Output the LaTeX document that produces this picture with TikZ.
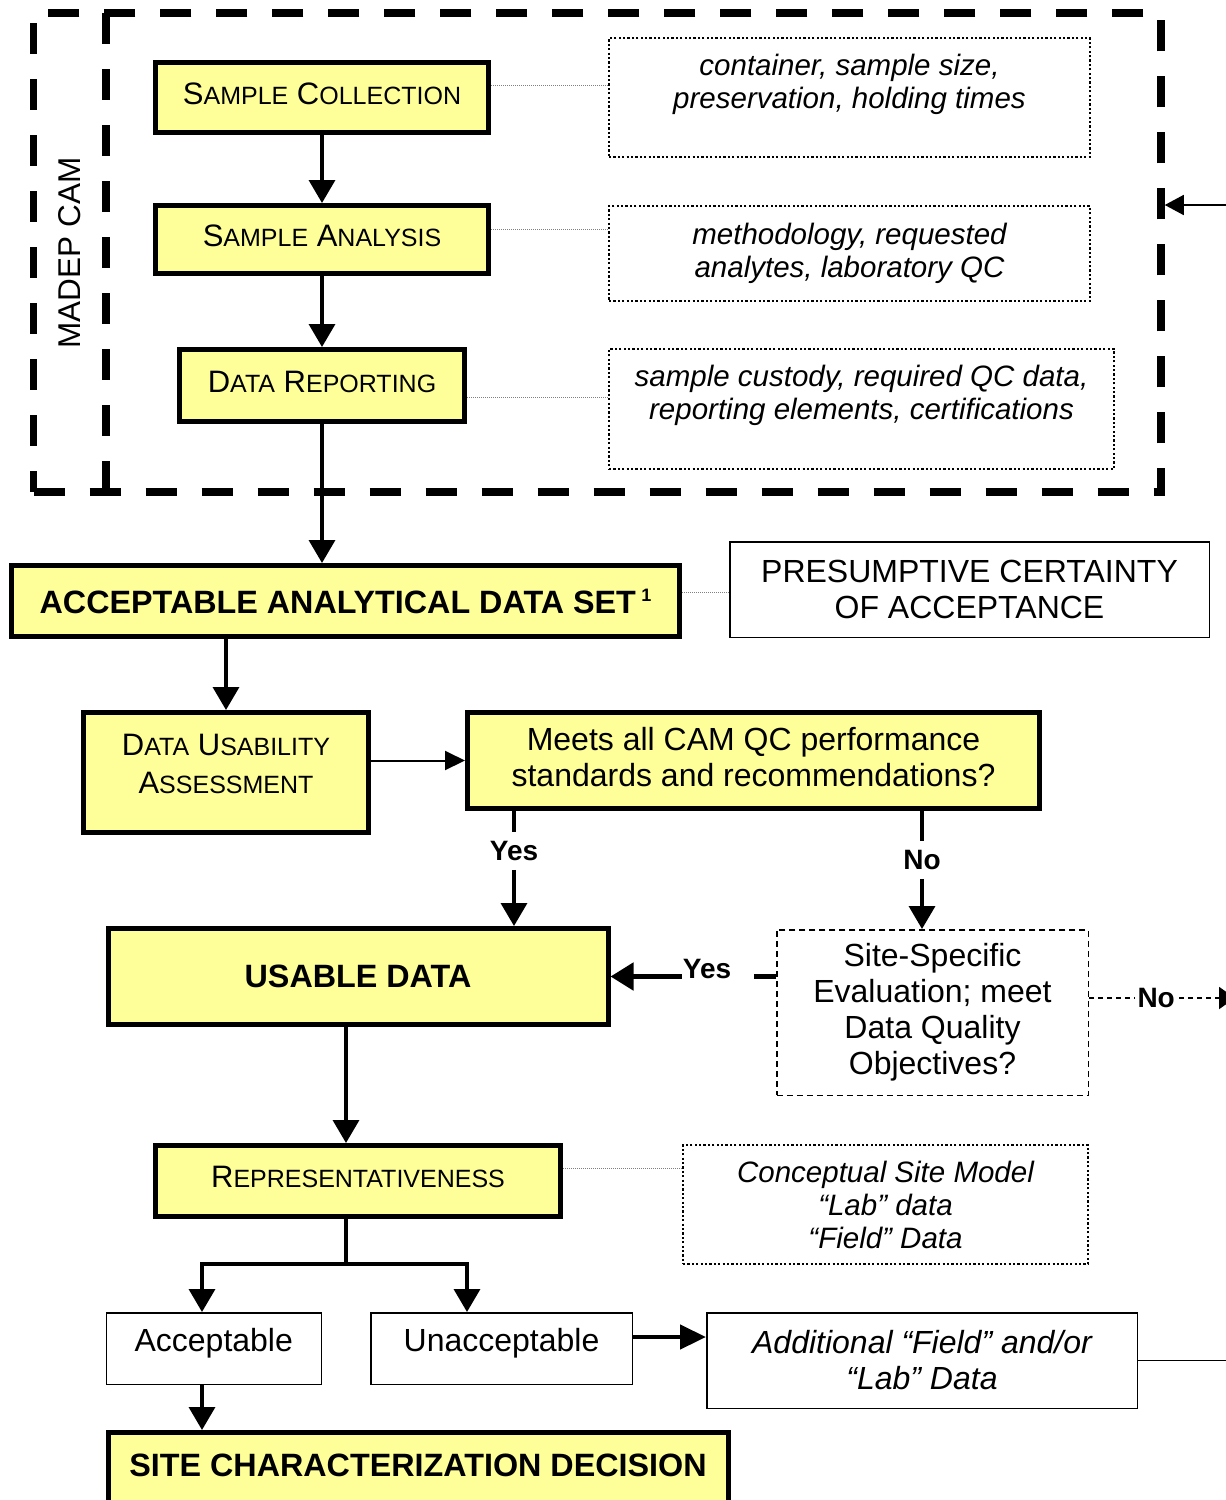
\documentclass[tikz,border=0pt]{standalone}
\usepackage{fontspec}
\setmainfont{Liberation Sans}
\usetikzlibrary{arrows.meta}

\definecolor{boxyellow}{HTML}{FFFF99}
\newcommand{\fmain}{\fontsize{32}{36}\selectfont}
\newcommand{\fbold}{\fontsize{32.3}{36}\selectfont\bfseries}
\newcommand{\fnote}{\fontsize{29.5}{33}\selectfont\itshape}
\newcommand{\flabel}{\fontsize{28}{32}\selectfont\bfseries}
\newcommand{\smcap}[2]{#1{\fontsize{25}{36}\selectfont #2}}

\begin{document}
\begin{tikzpicture}[x=1pt,y=-1pt,
    stepbox/.style={draw, line width=5pt, fill=boxyellow, font=\fmain, align=center, inner sep=0pt},
    capbox/.style={stepbox, font=\fontsize{31}{36}\selectfont, text height=22pt, text depth=9pt},
    plainbox/.style={draw, line width=1.5pt, font=\fmain, align=center, inner sep=0pt},
    notebox/.style={draw, line width=2.2pt, dash pattern=on 2.2pt off 2.2pt, font=\fnote, align=center, inner sep=0pt},
    arr/.style={line width=3.5pt, -{Triangle[length=23pt,width=26pt]}},
    dotline/.style={line width=1pt, dash pattern=on 1pt off 1pt, gray},
    yn/.style={font=\flabel, inner xsep=2pt, inner ysep=9pt},
    camdash/.style={line width=7.5pt, dash pattern=on 31pt off 25pt}
  ]
  \useasboundingbox (0,0) rectangle (1226,1500);
  \clip (0,0) rectangle (1226,1500);

  % MADEP CAM frame
  \node[camdash, draw, minimum width=1127.4pt, minimum height=479pt, inner sep=0pt] (cam) at (597.3,252.5) {};
  \draw[camdash] (106,13) -- (106,492);
  \node[rotate=90, font=\fontsize{31.5}{36}\selectfont] (camlabel) at (70,253) {MADEP CAM};

  \node[capbox, minimum width=333pt, minimum height=70pt] (collect) at (322,97.5) {\smcap{S}{AMPLE} \smcap{C}{OLLECTION}};
  \node[capbox, minimum width=333pt, minimum height=68pt] (analysis) at (322,239.5) {\smcap{S}{AMPLE} \smcap{A}{NALYSIS}};
  \node[capbox, minimum width=285pt, minimum height=72pt] (report) at (322,385.5) {\smcap{D}{ATA} \smcap{R}{EPORTING}};

  \node[notebox, minimum width=481pt, minimum height=119pt] (collectnote) at (849.5,97.5) {container, sample size,\\preservation, holding times\\~};
  \node[notebox, minimum width=481pt, minimum height=95pt] (analysisnote) at (849.5,253.5) {methodology, requested\\analytes, laboratory QC};
  \node[notebox, minimum width=505pt, minimum height=120pt] (reportnote) at (861.5,409) {sample custody, required QC data,\\reporting elements, certifications\\~};

  \draw[dotline] ([yshift=12.5pt]collect.east) -- ([yshift=12.5pt]collect.east -| collectnote.west);
  \draw[dotline] ([yshift=10.5pt]analysis.east) -- ([yshift=10.5pt]analysis.east -| analysisnote.west);
  \draw[dotline] ([yshift=-11.5pt]report.east) -- ([yshift=-11.5pt]report.east -| reportnote.west);

  \draw[arr] (collect) -- (analysis);
  \draw[arr] (analysis) -- (report);

  % data set and usability
  \node[stepbox, font=\fbold, minimum width=668pt, minimum height=71pt] (dataset) at (345.5,601) {ACCEPTABLE ANALYTICAL DATA SET\,{\fontsize{18}{18}\selectfont\raisebox{12pt}{1}}};
  \node[plainbox, minimum width=479.5pt, minimum height=95.5pt] (presume) at (969.5,589.5) {PRESUMPTIVE CERTAINTY\\OF ACCEPTANCE};
  \draw[dotline] ([yshift=9pt]dataset.east) -- ([yshift=9pt]dataset.east -| presume.west);
  \draw[arr] (report) -- (report.south |- dataset.north);

  \node[stepbox, font=\fontsize{31}{38}\selectfont, text depth=17pt, minimum width=285pt, minimum height=120pt] (usability) at (226,772.5) {\smcap{D}{ATA} \smcap{U}{SABILITY}\\\smcap{A}{SSESSMENT}};
  \node[stepbox, text depth=8pt, minimum width=572pt, minimum height=96pt] (meets) at (753.5,760.5) {Meets all CAM QC performance\\standards and recommendations?};
  \draw[arr] (usability.north |- dataset.south) -- (usability);
  \draw[line width=2pt, -{Triangle[length=20pt,width=19pt]}] (usability.east |- meets.west) -- (meets.west);

  \node[stepbox, font=\fbold, minimum width=500pt, minimum height=96pt] (usable) at (358,976.5) {USABLE DATA};
  \node[plainbox, dash pattern=on 6pt off 4pt, minimum width=311.5pt, minimum height=165.5pt] (site) at (932.5,1012.5) {Site-Specific\\Evaluation; meet\\Data Quality\\Objectives?};

  \node[yn] (yes) at (514,851) {Yes};
  \node[yn] (no) at (922,860) {No};
  \draw[line width=3.5pt] (meets.south -| yes) -- (yes);
  \draw[arr] (yes) -- (yes |- usable.north);
  \draw[line width=3.5pt] (meets.south -| no) -- (no);
  \draw[arr] (no) -- (no |- site.north);

  \node[font=\flabel, inner sep=1pt] (yesleft) at (707,969) {Yes};
  \draw[line width=5pt] (site.west |- usable.east) -- ++(-22,0);
  \draw[line width=5pt, -{Triangle[length=23pt,width=27pt]}] (yesleft.west |- usable.east) -- (usable.east);

  \coordinate (noexit) at (1235,998);
  \draw[line width=2pt, dash pattern=on 5pt off 4pt, -{Triangle[length=16pt,width=22pt]}] (site.east |- noexit) -- node[font=\flabel, fill=white, inner sep=3pt, pos=0.46] (noright) {No} (noexit);

  % representativeness
  \node[capbox, minimum width=405pt, minimum height=71pt] (repr) at (358,1181) {\smcap{R}{EPRESENTATIVENESS}};
  \node[notebox, minimum width=405pt, minimum height=119pt] (reprnote) at (885.5,1204.5) {Conceptual Site Model\\“Lab” data\\“Field” Data};
  \draw[dotline] ([yshift=13pt]repr.east) -- ([yshift=13pt]repr.east -| reprnote.west);
  \draw[arr] ([xshift=-12pt]usable.south) -- ([xshift=-12pt]repr.north);

  \node[plainbox, text height=23pt, text depth=17pt, minimum width=215pt, minimum height=71.5pt] (acc) at (213.75,1348.5) {Acceptable};
  \node[plainbox, text height=23pt, text depth=17pt, minimum width=261.5pt, minimum height=71.5pt] (unacc) at (501.5,1348.5) {Unacceptable};
  \node[plainbox, font=\fmain\itshape, minimum width=430.5pt, minimum height=95.5pt] (extra) at (922,1360.5) {Additional “Field” and/or\\“Lab” Data};

  \coordinate (split) at (346,1264);
  \coordinate (splitL) at (202,1264);
  \coordinate (splitR) at (467,1264);
  \draw[line width=3.5pt] ([xshift=-12pt]repr.south) -- (split);
  \draw[arr] (split) -| (splitL |- acc.north);
  \draw[arr] (split) -| (splitR |- unacc.north);
  \draw[line width=4.5pt, -{Triangle[length=26pt,width=24pt]}] ([yshift=11.5pt]unacc.east) -- ([yshift=11.5pt]unacc.east -| extra.west);

  \node[stepbox, font=\fbold, text height=22pt, text depth=10pt, minimum width=620pt, minimum height=75pt] (decision) at (418,1470) {SITE CHARACTERIZATION DECISION};
  \draw[arr] (splitL |- acc.south) -- (splitL |- decision.north);

  % loop back to the CAM frame
  \coordinate (loopout) at (1240,1360.5);
  \coordinate (loopin) at (1240,205);
  \draw[line width=1.5pt] (extra.east) -- (loopout);
  \draw[line width=1.5pt, -{Triangle[length=19pt,width=20pt]}] (loopin) -- (loopin -| cam.east);
\end{tikzpicture}
\end{document}
